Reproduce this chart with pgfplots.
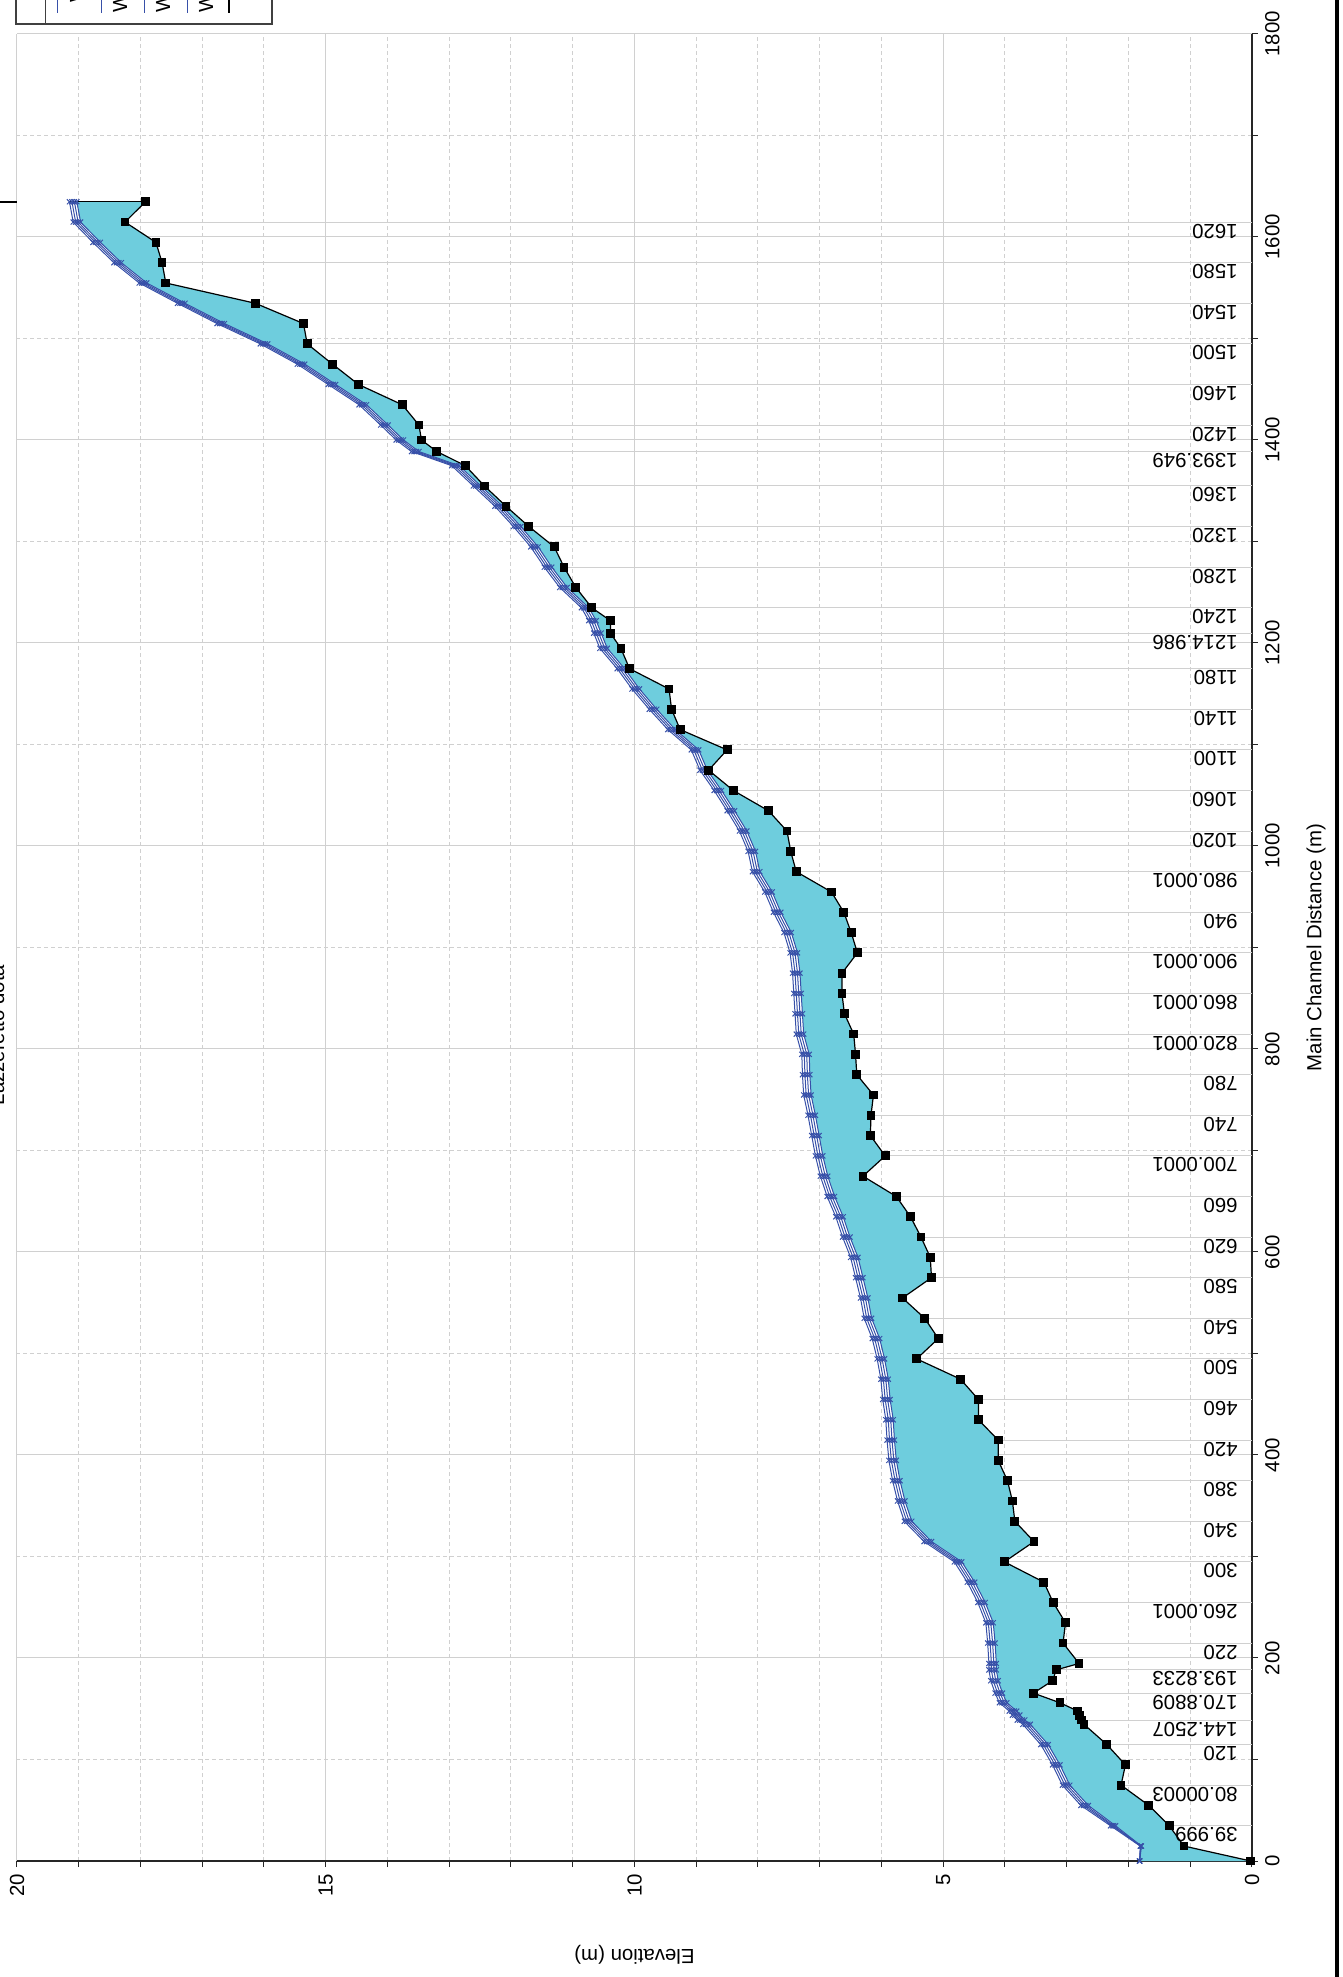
\documentclass[border=0pt]{standalone}
\usepackage{fontspec}
\setmainfont{Liberation Sans}
\usepackage{pgfplots}
\pgfplotsset{compat=1.18}
\usepackage{pgfplotstable}
\definecolor{wsblue}{RGB}{55,80,168}
\definecolor{watercyan}{RGB}{110,205,221}
\definecolor{gridgray}{RGB}{208,208,208}

\pgfplotstableread{
d g w1 w2 w3 w4
0 0.02 1.82 1.82 1.82 1.82
14.7 1.10 1.79 1.80 1.80 1.81
34.7 1.34 2.21 2.24 2.26 2.29
54.7 1.67 2.65 2.69 2.73 2.77
74.7 2.12 2.95 2.99 3.03 3.07
94.7 2.05 3.11 3.15 3.19 3.23
114.7 2.35 3.30 3.34 3.38 3.42
134.6 2.72 3.59 3.63 3.67 3.71
138.9 2.76 3.68 3.72 3.76 3.80
143.7 2.79 3.76 3.80 3.84 3.88
147.7 2.82 3.81 3.85 3.89 3.93
155.9 3.11 3.97 4.01 4.05 4.09
165.4 3.54 4.04 4.08 4.12 4.16
177.6 3.23 4.11 4.15 4.19 4.23
188.3 3.17 4.14 4.18 4.22 4.26
194.6 2.80 4.14 4.18 4.22 4.26
214.7 3.06 4.16 4.20 4.24 4.28
234.7 3.02 4.19 4.23 4.27 4.31
254.7 3.22 4.32 4.36 4.40 4.44
274.7 3.37 4.49 4.53 4.57 4.61
294.7 4.01 4.70 4.74 4.78 4.82
314.7 3.53 5.19 5.23 5.27 5.31
334.7 3.84 5.51 5.55 5.59 5.63
354.7 3.88 5.62 5.66 5.70 5.74
374.7 3.96 5.70 5.74 5.78 5.82
394.7 4.11 5.76 5.80 5.84 5.88
414.7 4.11 5.79 5.83 5.87 5.91
434.7 4.43 5.81 5.85 5.89 5.93
454.7 4.43 5.86 5.90 5.94 5.98
474.7 4.72 5.89 5.93 5.97 6.01
494.7 5.43 5.95 5.99 6.03 6.07
514.7 5.08 6.03 6.07 6.11 6.15
534.7 5.30 6.16 6.20 6.24 6.28
554.7 5.66 6.22 6.26 6.30 6.34
574.7 5.19 6.30 6.34 6.38 6.42
594.7 5.21 6.38 6.42 6.46 6.50
614.7 5.36 6.51 6.55 6.59 6.63
634.7 5.53 6.62 6.66 6.70 6.74
654.7 5.76 6.76 6.80 6.84 6.88
674.7 6.30 6.87 6.91 6.95 6.99
694.7 5.94 6.95 6.99 7.03 7.07
714.7 6.18 7.01 7.05 7.09 7.13
734.7 6.17 7.07 7.11 7.15 7.19
754.7 6.13 7.14 7.18 7.22 7.26
774.7 6.40 7.16 7.20 7.24 7.28
794.7 6.42 7.17 7.21 7.25 7.29
814.7 6.45 7.26 7.30 7.34 7.38
834.7 6.60 7.28 7.32 7.36 7.40
854.7 6.64 7.30 7.34 7.38 7.42
874.7 6.64 7.32 7.36 7.40 7.44
894.7 6.39 7.36 7.40 7.44 7.48
914.7 6.49 7.46 7.50 7.54 7.58
934.7 6.61 7.63 7.67 7.71 7.75
954.7 6.81 7.77 7.81 7.85 7.89
974.7 7.38 7.97 8.01 8.05 8.09
994.7 7.47 8.04 8.08 8.12 8.16
1014.7 7.53 8.18 8.22 8.26 8.30
1034.7 7.83 8.38 8.42 8.46 8.50
1054.7 8.40 8.59 8.63 8.67 8.71
1074.7 8.80 8.82 8.86 8.90 8.94
1094.7 8.50 8.96 9.00 9.04 9.08
1114.7 9.26 9.34 9.38 9.42 9.46
1134.7 9.40 9.64 9.68 9.72 9.76
1154.7 9.44 9.92 9.96 10.00 10.04
1174.7 10.08 10.16 10.20 10.24 10.28
1194.7 10.22 10.44 10.48 10.52 10.56
1209.7 10.39 10.54 10.58 10.62 10.66
1222.0 10.39 10.62 10.66 10.70 10.74
1234.7 10.69 10.74 10.78 10.82 10.86
1254.7 10.95 11.09 11.13 11.17 11.21
1274.7 11.14 11.34 11.38 11.42 11.46
1294.7 11.30 11.56 11.60 11.64 11.68
1314.7 11.71 11.84 11.88 11.92 11.96
1334.7 12.08 12.14 12.18 12.22 12.26
1354.7 12.43 12.49 12.53 12.57 12.61
1374.7 12.74 12.84 12.88 12.92 12.96
1388.6 13.20 13.49 13.53 13.57 13.61
1400.0 13.45 13.74 13.78 13.82 13.86
1414.7 13.49 13.99 14.03 14.07 14.11
1434.7 13.76 14.34 14.38 14.42 14.46
1454.7 14.47 14.84 14.88 14.92 14.96
1474.7 14.89 15.34 15.38 15.42 15.46
1494.7 15.30 15.94 15.98 16.02 16.06
1514.7 15.36 16.64 16.68 16.72 16.76
1534.7 16.14 17.28 17.32 17.36 17.40
1554.7 17.59 17.90 17.94 17.98 18.02
1574.7 17.65 18.31 18.35 18.39 18.43
1594.7 17.75 18.65 18.69 18.73 18.77
1614.7 18.25 18.97 19.01 19.05 19.09
1634.7 17.92 19.03 19.07 19.11 19.15
}\prof

% water area: ground upstream, then lowest water surface back downstream
\pgfplotstableread{
e d
0.02 0
1.10 14.7
1.34 34.7
1.67 54.7
2.12 74.7
2.05 94.7
2.35 114.7
2.72 134.6
2.76 138.9
2.79 143.7
2.82 147.7
3.11 155.9
3.54 165.4
3.23 177.6
3.17 188.3
2.80 194.6
3.06 214.7
3.02 234.7
3.22 254.7
3.37 274.7
4.01 294.7
3.53 314.7
3.84 334.7
3.88 354.7
3.96 374.7
4.11 394.7
4.11 414.7
4.43 434.7
4.43 454.7
4.72 474.7
5.43 494.7
5.08 514.7
5.30 534.7
5.66 554.7
5.19 574.7
5.21 594.7
5.36 614.7
5.53 634.7
5.76 654.7
6.30 674.7
5.94 694.7
6.18 714.7
6.17 734.7
6.13 754.7
6.40 774.7
6.42 794.7
6.45 814.7
6.60 834.7
6.64 854.7
6.64 874.7
6.39 894.7
6.49 914.7
6.61 934.7
6.81 954.7
7.38 974.7
7.47 994.7
7.53 1014.7
7.83 1034.7
8.40 1054.7
8.80 1074.7
8.50 1094.7
9.26 1114.7
9.40 1134.7
9.44 1154.7
10.08 1174.7
10.22 1194.7
10.39 1209.7
10.39 1222.0
10.69 1234.7
10.95 1254.7
11.14 1274.7
11.30 1294.7
11.71 1314.7
12.08 1334.7
12.43 1354.7
12.74 1374.7
13.20 1388.6
13.45 1400.0
13.49 1414.7
13.76 1434.7
14.47 1454.7
14.89 1474.7
15.30 1494.7
15.36 1514.7
16.14 1534.7
17.59 1554.7
17.65 1574.7
17.75 1594.7
18.25 1614.7
17.92 1634.7
19.03 1634.7
18.97 1614.7
18.65 1594.7
18.31 1574.7
17.90 1554.7
17.28 1534.7
16.64 1514.7
15.94 1494.7
15.34 1474.7
14.84 1454.7
14.34 1434.7
13.99 1414.7
13.74 1400.0
13.49 1388.6
12.84 1374.7
12.49 1354.7
12.14 1334.7
11.84 1314.7
11.56 1294.7
11.34 1274.7
11.09 1254.7
10.74 1234.7
10.62 1222.0
10.54 1209.7
10.44 1194.7
10.16 1174.7
9.92 1154.7
9.64 1134.7
9.34 1114.7
8.96 1094.7
8.82 1074.7
8.59 1054.7
8.38 1034.7
8.18 1014.7
8.04 994.7
7.97 974.7
7.77 954.7
7.63 934.7
7.46 914.7
7.36 894.7
7.32 874.7
7.30 854.7
7.28 834.7
7.26 814.7
7.17 794.7
7.16 774.7
7.14 754.7
7.07 734.7
7.01 714.7
6.95 694.7
6.87 674.7
6.76 654.7
6.62 634.7
6.51 614.7
6.38 594.7
6.30 574.7
6.22 554.7
6.16 534.7
6.03 514.7
5.95 494.7
5.89 474.7
5.86 454.7
5.81 434.7
5.79 414.7
5.76 394.7
5.70 374.7
5.62 354.7
5.51 334.7
5.19 314.7
4.70 294.7
4.49 274.7
4.32 254.7
4.19 234.7
4.16 214.7
4.14 194.6
4.14 188.3
4.11 177.6
4.04 165.4
3.97 155.9
3.81 147.7
3.76 143.7
3.68 138.9
3.59 134.6
3.30 114.7
3.11 94.7
2.95 74.7
2.65 54.7
2.21 34.7
1.79 14.7
1.82 0
}\area

\pgfplotstableread{
d g lab
34.7 1.34 39.999
74.7 2.12 80.00003
114.7 2.35 120
138.9 2.76 144.2507
165.4 3.54 170.8809
188.3 3.17 193.8233
214.7 3.06 220
254.7 3.22 260.0001
294.7 4.01 300
334.7 3.84 340
374.7 3.96 380
414.7 4.11 420
454.7 4.43 460
494.7 5.43 500
534.7 5.30 540
574.7 5.19 580
614.7 5.36 620
654.7 5.76 660
694.7 5.94 700.0001
734.7 6.17 740
774.7 6.40 780
814.7 6.45 820.0001
854.7 6.64 860.0001
894.7 6.39 900.0001
934.7 6.61 940
974.7 7.38 980.0001
1014.7 7.53 1020
1054.7 8.40 1060
1094.7 8.50 1100
1134.7 9.40 1140
1174.7 10.08 1180
1209.7 10.39 1214.986
1234.7 10.69 1240
1274.7 11.14 1280
1314.7 11.71 1320
1354.7 12.43 1360
1388.6 13.20 1393.949
1414.7 13.49 1420
1454.7 14.47 1460
1494.7 15.30 1500
1534.7 16.14 1540
1574.7 17.65 1580
1614.7 18.25 1620
}\stations

\begin{document}
\begin{tikzpicture}[font=\fontsize{10.2}{12.2}\selectfont]
\begin{axis}[
  at={(0,0)}, anchor=south west,
  width=617.5pt, height=913.5pt, scale only axis,
  xmin=0, xmax=20, x dir=reverse,
  ymin=0, ymax=1800,
  axis x line*=bottom, axis y line*=right,
  axis line style={black!85, line width=0.6pt},
  xtick={0,5,10,15,20},
  minor xtick={1,2,3,4,6,7,8,9,11,12,13,14,16,17,18,19},
  ytick={0,200,400,600,800,1000,1200,1400,1600,1800},
  minor ytick={100,300,500,700,900,1100,1300,1500,1700},
  grid=both,
  major grid style={gridgray, line width=0.5pt},
  minor grid style={gridgray, line width=0.5pt, dash pattern=on 2pt off 1.5pt},
  tick align=outside,
  major tick length=3pt, minor tick length=3pt,
  tick style={black!85, line width=0.5pt},
  xticklabel style={rotate=90, anchor=east},
  yticklabel style={rotate=90, anchor=north},
  /pgf/number format/assume math mode=true,
  /pgf/number format/set thousands separator={},
  scaled ticks=false,
  every axis x label/.style={at={(axis description cs:0.5,0)}, anchor=center, yshift=-47pt, rotate=180},
  every axis y label/.style={at={(axis description cs:1,0.5)}, anchor=center, xshift=32pt, rotate=90},
  xlabel={Elevation (m)}, ylabel={Main Channel Distance (m)},
  clip=false,
]
% water area
\addplot[fill=watercyan, draw=none, mark=none] table[x=e, y=d] {\area} -- cycle;
% station lines
\addplot[xcomb, gridgray, line width=0.5pt, mark=none] table[x=g, y=d] {\stations};
% station labels
\addplot[draw=none, mark=none, nodes near coords, point meta=explicit symbolic,
  every node near coord/.append style={xshift=-7pt, yshift=-1pt, rotate=180, anchor=base west, inner sep=0pt, black}]
  table[x expr=0, y=d, meta=lab] {\stations};
% water surfaces
\addplot[wsblue, line width=0.5pt, mark=x, mark size=1.8pt] table[x=w1, y=d] {\prof};
\addplot[wsblue, line width=0.5pt, mark=x, mark size=1.8pt] table[x=w2, y=d] {\prof};
\addplot[wsblue, line width=0.5pt, mark=x, mark size=1.8pt] table[x=w3, y=d] {\prof};
\addplot[wsblue, line width=0.5pt, mark=x, mark size=1.8pt] table[x=w4, y=d] {\prof};
% ground
\addplot[black, line width=0.6pt, mark=square*, mark size=1.9pt, mark options={solid, fill=black}] table[x=g, y=d] {\prof};
\addplot[black, line width=0.5pt, mark=none] coordinates {(19.15,1634.7) (17.92,1634.7)};
\addplot[black, line width=0.8pt, mark=none] coordinates {(20,1634.7) (20.4,1634.7)};
\end{axis}
\pgfresetboundingbox
\useasboundingbox (-8.5pt,-58pt) rectangle (663pt,930.5pt);
% right frame
\draw[black, line width=2pt] (660pt,-70pt) -- (660pt,940pt);
% title (cut by the page edge)
\node[rotate=90, anchor=base, inner sep=0pt] at (-6.5pt,413pt) {Lazzeretto dota};
% legend (mostly beyond the top edge)
\draw[black!75, line width=0.6pt] (-0.5pt,918.5pt) rectangle (127.5pt,980pt);
\draw[black!75, line width=0.6pt] (14.35pt,918.5pt) -- (14.35pt,980pt);
\draw[wsblue, line width=0.5pt] (20.5pt,924pt) -- (20.5pt,980pt);
\draw[wsblue, line width=0.5pt] (42pt,924pt) -- (42pt,980pt);
\draw[wsblue, line width=0.5pt] (63.5pt,924pt) -- (63.5pt,980pt);
\draw[wsblue, line width=0.5pt] (85pt,924pt) -- (85pt,980pt);
\draw[black, line width=0.6pt] (106pt,924pt) -- (106pt,980pt);
\node[rotate=90, anchor=base west, inner sep=0pt] at (33.5pt,929pt) {WS PF 4};
\node[rotate=90, anchor=base west, inner sep=0pt] at (55pt,924pt) {WS PF 3};
\node[rotate=90, anchor=base west, inner sep=0pt] at (76.5pt,924pt) {WS PF 2};
\node[rotate=90, anchor=base west, inner sep=0pt] at (98pt,924pt) {WS PF 1};
\node[rotate=90, anchor=base west, inner sep=0pt] at (119pt,933pt) {Ground};
\end{tikzpicture}
\end{document}
